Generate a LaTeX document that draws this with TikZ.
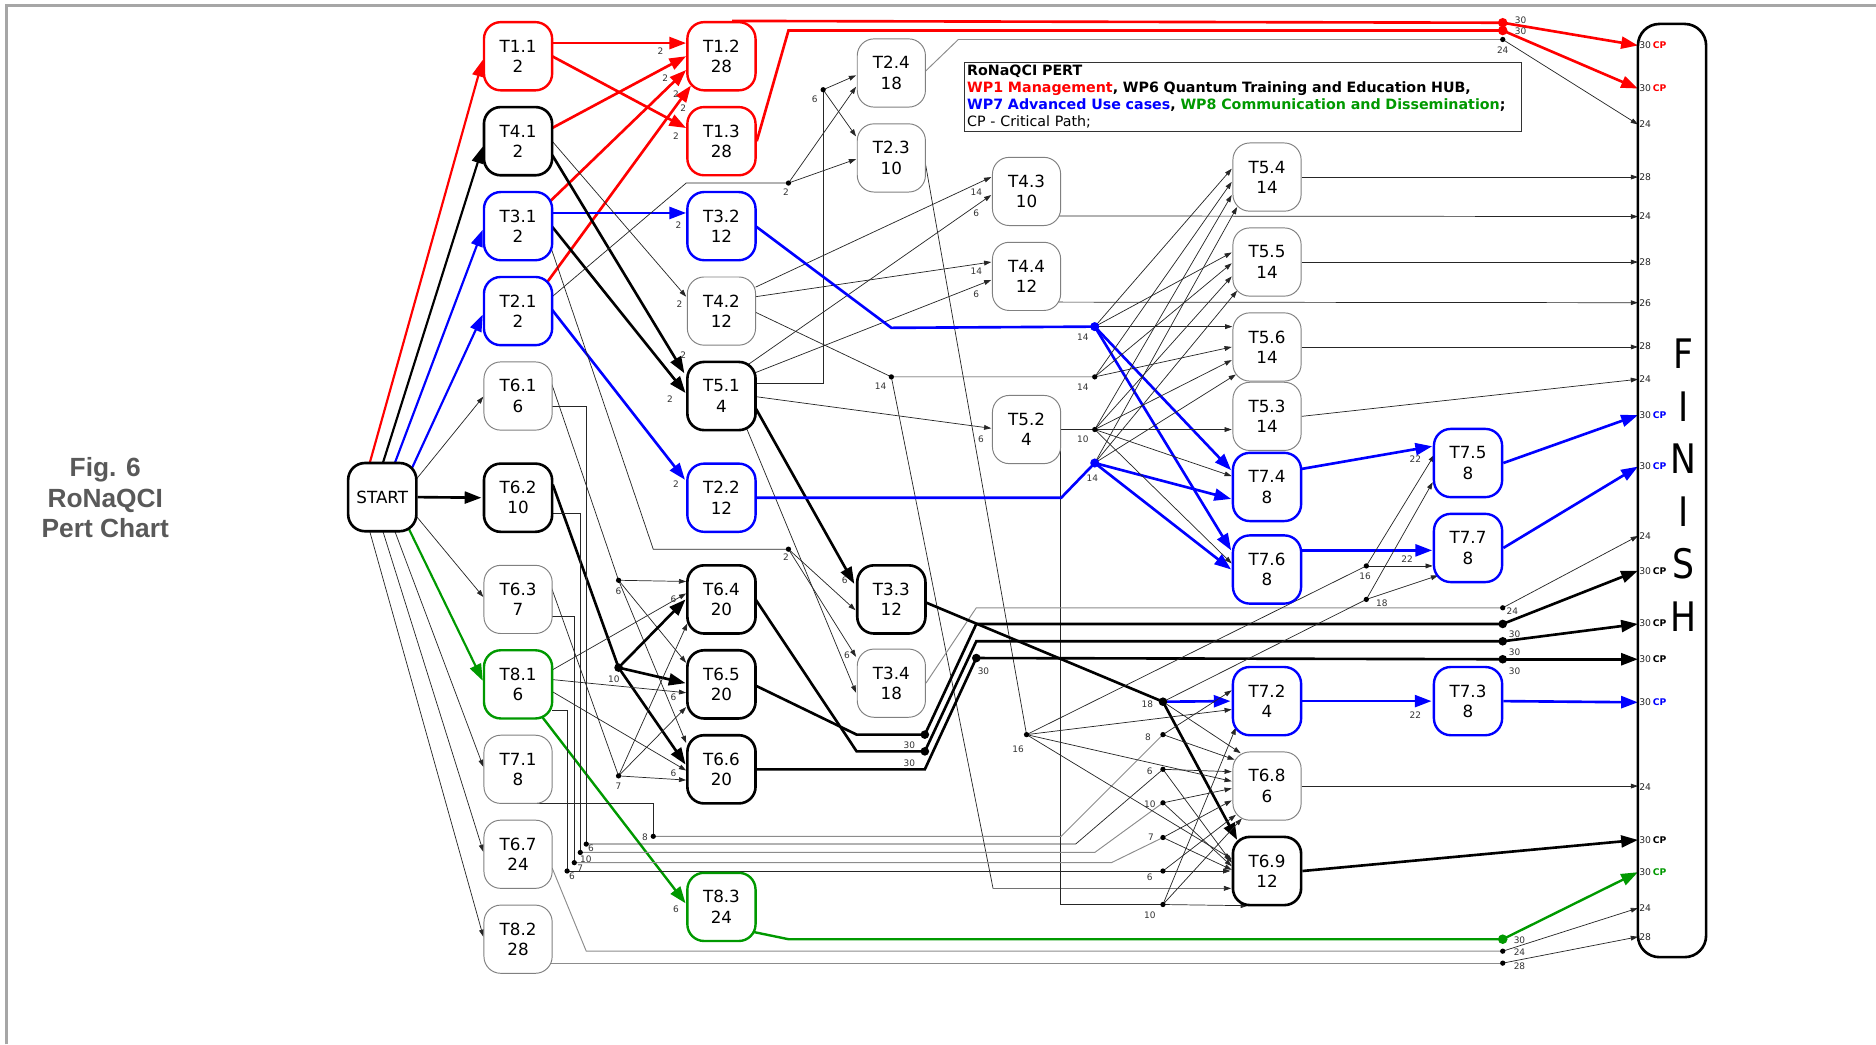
\documentclass[tikz,border=0pt]{standalone}
\usepackage{fontspec}
\setmainfont{DejaVu Sans}
\newfontfamily\captionfont{Liberation Sans}
\newfontfamily\finfont{DejaVu Sans}[FakeStretch=0.85]
\usetikzlibrary{arrows.meta,calc}
\pgfdeclarelayer{edges}
\pgfsetlayers{edges,main}
\definecolor{wpred}{RGB}{255,0,0}
\definecolor{wpblue}{RGB}{0,0,255}
\definecolor{wpgreen}{RGB}{0,153,0}
\definecolor{boxgray}{RGB}{128,128,128}
\definecolor{titlegray}{RGB}{89,89,89}
\definecolor{framegray}{RGB}{166,166,166}
\tikzset{
  task/.style={rectangle, rounded corners=14pt, minimum width=57pt, minimum height=57pt,
    inner sep=0pt, align=center, font=\fontsize{14}{17}\selectfont,
    draw=boxgray, line width=0.8pt, fill=white},
  crittask/.style={task, draw=black, line width=2.2pt},
  redtask/.style={task, draw=wpred, line width=2pt},
  bluetask/.style={task, draw=wpblue, line width=2pt},
  greentask/.style={task, draw=wpgreen, line width=2pt},
  fine/.style={line width=0.6pt, draw=black!85},
  finearr/.style={fine, -{Triangle[length=6pt,width=4pt]}},
  pale/.style={line width=0.8pt, draw=black!45},
  heavy/.style={line width=2.2pt, draw=black},
  heavyarr/.style={heavy, -{Triangle[length=14pt,width=10pt]}},
  redarr/.style={line width=2.2pt, draw=wpred, -{Triangle[length=14pt,width=10pt]}},
  bluearr/.style={line width=2.2pt, draw=wpblue, -{Triangle[length=14pt,width=10pt]}},
  greenarr/.style={line width=2pt, draw=wpgreen, -{Triangle[length=14pt,width=10pt]}},
  lab/.style={font=\fontsize{7.5}{8}\selectfont, text=black!80, inner sep=0pt},
  finlab/.style={font=\fontsize{7.7}{8}\selectfont, text=black!85, inner sep=0pt, anchor=west},
}
\begin{document}
\begin{tikzpicture}[x=1pt,y=-1pt]
\useasboundingbox (0,0) rectangle (1568,873);
% page frame
\draw[framegray, line width=2.2pt] (5.5,873) -- (5.5,4.5) -- (1568,4.5);

% caption
\node[font=\captionfont\bfseries\fontsize{22}{25.3}\selectfont, text=titlegray, align=center] (caption) at (88,416) {Fig. 6\\RoNaQCI\\Pert Chart};

% legend
\node[draw=black!80, line width=0.8pt, fill=white, anchor=north west, align=left, inner sep=2pt,
  text width=461pt, font=\fontsize{11.9}{14.3}\selectfont] (legend) at (806,52)
  {\textbf{RoNaQCI PERT}\\
   \textbf{\textcolor{wpred}{WP1 Management}, WP6 Quantum Training and Education HUB,}\\
   \textbf{\textcolor{wpblue}{WP7 Advanced Use cases}, \textcolor{wpgreen}{WP8 Communication and Dissemination};}\\
   CP - Critical Path;};

% task boxes
\node[crittask] (START) at (319.5,415.5) {START};
\node[redtask] (T11) at (433,47) {T1.1\\2};
\node[crittask] (T41) at (433,118) {T4.1\\2};
\node[bluetask] (T31) at (433,189) {T3.1\\2};
\node[bluetask] (T21) at (433,260) {T2.1\\2};
\node[task] (T61) at (433,331) {T6.1\\6};
\node[crittask] (T62) at (433,416) {T6.2\\10};
\node[task] (T63) at (433,501) {T6.3\\7};
\node[greentask] (T81) at (433,572) {T8.1\\6};
\node[task] (T71) at (433,643) {T7.1\\8};
\node[task] (T67) at (433,714) {T6.7\\24};
\node[task] (T82) at (433,785) {T8.2\\28};
\node[redtask] (T12) at (603,47) {T1.2\\28};
\node[redtask] (T13) at (603,118) {T1.3\\28};
\node[bluetask] (T32) at (603,189) {T3.2\\12};
\node[task] (T42) at (603,260) {T4.2\\12};
\node[crittask] (T51) at (603,331) {T5.1\\4};
\node[bluetask] (T22) at (603,416) {T2.2\\12};
\node[crittask] (T64) at (603,501) {T6.4\\20};
\node[crittask] (T65) at (603,572) {T6.5\\20};
\node[crittask] (T66) at (603,643) {T6.6\\20};
\node[greentask] (T83) at (603,758) {T8.3\\24};
\node[task] (T24) at (745,61) {T2.4\\18};
\node[task] (T23) at (745,132) {T2.3\\10};
\node[crittask] (T33) at (745,501) {T3.3\\12};
\node[task] (T34) at (745,571) {T3.4\\18};
\node[task] (T43) at (858,160) {T4.3\\10};
\node[task] (T44) at (858,231) {T4.4\\12};
\node[task] (T52) at (858,359) {T5.2\\4};
\node[task] (T54) at (1059,148) {T5.4\\14};
\node[task] (T55) at (1059,219) {T5.5\\14};
\node[task] (T56) at (1059,290) {T5.6\\14};
\node[task] (T53) at (1059,348) {T5.3\\14};
\node[bluetask] (T74) at (1059,407) {T7.4\\8};
\node[bluetask] (T76) at (1059,476) {T7.6\\8};
\node[bluetask] (T72) at (1059,586) {T7.2\\4};
\node[task] (T68) at (1059,657) {T6.8\\6};
\node[crittask] (T69) at (1059,728) {T6.9\\12};
\node[bluetask] (T75) at (1227,387) {T7.5\\8};
\node[bluetask] (T77) at (1227,458) {T7.7\\8};
\node[bluetask] (T73) at (1227,586) {T7.3\\8};

% finish bar
\node[draw, line width=2.2pt, rounded corners=18pt, minimum width=57pt, minimum height=780pt, inner sep=0pt, fill=white] (FIN) at (1397.5,410) {};
\node[font=\finfont\fontsize{34}{44}\selectfont, align=center, inner sep=0pt] (finword) at (1407,405.5) {F\\I\\N\\I\\S\\H};

% junction points
\coordinate (J1) at (659,459);
\coordinate (J2) at (659,153);
\coordinate (J3) at (688,75);
\coordinate (J4) at (517,485);
\coordinate (J5) at (745,315);
\coordinate (J6) at (517,558);
\coordinate (J7) at (517,648.5);
\coordinate (B1) at (915,273);
\coordinate (J14) at (915,315);
\coordinate (J10) at (915,359);
\coordinate (B2) at (915,387);
\coordinate (D61) at (490,705.5);
\coordinate (D62) at (485,712.5);
\coordinate (D63) at (480,721);
\coordinate (D81) at (474,728);
\coordinate (D71) at (546,699);
\coordinate (K18) at (972,586.5);
\coordinate (K8) at (972,614);
\coordinate (K6a) at (972,643);
\coordinate (K10a) at (972,671);
\coordinate (K7) at (972,700);
\coordinate (K6b) at (972,728);
\coordinate (K10b) at (972,756);
\coordinate (K16) at (858,614);
\coordinate (S16) at (1142,473);
\coordinate (S18) at (1142,501);
\coordinate (P1) at (773,614);
\coordinate (P2) at (773,628);
\coordinate (P3) at (816,550);
\coordinate (Q1) at (1256,521.5);
\coordinate (Q2) at (1256,536);
\coordinate (Q3) at (1256,551);
\coordinate (R1) at (1256,19);
\coordinate (R2) at (1256,25.5);
\coordinate (G33) at (1256,33);
\coordinate (G508) at (1256,508);
\coordinate (GG) at (1256,785);
\coordinate (G795) at (1256,795);
\coordinate (G805) at (1256,805);
% inputs on the finish bar
\coordinate (F38) at (1369,38);
\coordinate (F74) at (1369,74);
\coordinate (F104) at (1369,104);
\coordinate (F148) at (1369,148);
\coordinate (F181) at (1369,181);
\coordinate (F219) at (1369,219);
\coordinate (F253) at (1369,253);
\coordinate (F290) at (1369,290);
\coordinate (F317) at (1369,317);
\coordinate (F347) at (1369,347);
\coordinate (F390) at (1369,390);
\coordinate (F448) at (1369,448);
\coordinate (F477) at (1369,477);
\coordinate (F521) at (1369,521.5);
\coordinate (F551) at (1369,551);
\coordinate (F587) at (1369,587);
\coordinate (F657) at (1369,657);
\coordinate (F702) at (1369,702);
\coordinate (F729) at (1369,729);
\coordinate (F759) at (1369,759);
\coordinate (F783) at (1369,783);

\begin{pgfonlayer}{edges}
% from START
\draw[redarr, line width=1.8pt] ($(START)+(-10.5,-28.5)$) -- ($(T11)+(-29.5,3)$);
\draw[heavyarr, line width=1.8pt] ($(START)+(0.5,-28.5)$) -- ($(T41)+(-29.5,4.5)$);
\draw[bluearr, line width=1.8pt] ($(START)+(10.5,-28.5)$) -- ($(T31)+(-29.5,3)$);
\draw[bluearr, line width=1.8pt] ($(START)+(21.5,-17)$) -- ($(T21)+(-29.5,3)$);
\draw[finearr] ($(START)+(28.5,-15)$) -- ($(T61)+(-29,0.5)$);
\draw[heavyarr] (START.east) -- ($(T62.west)+(-1,0)$);
\draw[finearr] ($(START)+(28.5,16)$) -- ($(T63)+(-29,-2)$);
\draw[greenarr, line width=1.8pt] ($(START)+(21.5,25)$) -- ($(T81)+(-29.5,-3)$);
\draw[finearr] ($(START)+(10.5,28.5)$) -- ($(T71)+(-29,-2)$);
\draw[finearr] ($(START)+(0.5,28.5)$) -- ($(T67)+(-29,-2)$);
\draw[finearr] ($(START)+(-10.5,28.5)$) -- ($(T82)+(-29,-2)$);

% WP1 links
\draw[redarr] ($(T11)+(28.5,-11)$) -- ($(T12)+(-29.5,-11)$);
\draw[redarr] ($(T11)+(28.5,0)$) -- ($(T13)+(-29.5,-11)$);
\draw[redarr] ($(T41)+(28.5,-11)$) -- ($(T12)+(-29.5,0)$);
\draw[redarr] ($(T31)+(26,-20)$) -- ($(T12)+(-29.5,11.5)$);
\draw[redarr] ($(T21)+(23.5,-23)$) -- ($(T12)+(-25.5,24.5)$);
\draw[line width=2.2pt, wpred] ($(T12.north)+(9,0)$) -- (R1);
\draw[redarr] (R1) -- (F38);
\draw[line width=2.2pt, wpred] (T13.east) -- (659,25.5) -- (R2);
\draw[redarr] (R2) -- (F74);

% column one to column two
\draw[bluearr] ($(T31)+(28.5,-11)$) -- ($(T32)+(-29.5,-11)$);
\draw[finearr] ($(T41)+(28.5,0)$) -- ($(T42)+(-29.5,-12)$);
\draw[heavyarr] ($(T41)+(28.5,11.5)$) -- ($(T51)+(-31,-19)$);
\draw[heavyarr] ($(T31)+(28.5,0.5)$) -- ($(T51)+(-30,-2.5)$);
\draw[bluearr] ($(T21)+(28.5,-1)$) -- ($(T22)+(-30.5,-15)$);
\draw[fine] ($(T21)+(28.5,-12)$) -- (T12.west |- J2) -- (J2);
\draw[finearr] (J2) -- ($(T24)+(-29.5,11.5)$);
\draw[finearr] (J2) -- ($(T23)+(-29.5,1)$);
\draw[finearr] (J3) -- ($(T24)+(-29.5,2)$);
\draw[finearr] (J3) -- ($(T23)+(-29.5,-18)$);
\draw[fine] ($(T51)+(28.5,-11)$) -| (J3);
\draw[fine] ($(T31)+(27,16.5)$) -- (546,459) -- (J1);
\draw[finearr] (J1) -- ($(T33)+(-30,9)$);
\draw[finearr] (J1) -- ($(T34)+(-29.5,-22)$);
\draw[finearr] ($(T51)+(21,27)$) -- ($(T34)+(-29.5,8)$);
\draw[heavyarr] ($(T51)+(28.5,10)$) -- ($(T33)+(-31,-13)$);
\draw[finearr] ($(T51)+(28.5,0.5)$) -- ($(T52)+(-29.5,-1)$);
\draw[finearr] ($(T51)+(19,-24)$) -- ($(T43)+(-29.5,3)$);
\draw[finearr] ($(T51)+(27,-19)$) -- ($(T44)+(-29.5,3)$);
\draw[finearr] ($(T42)+(28.5,-20)$) -- ($(T43)+(-29.5,-12)$);
\draw[finearr] ($(T42)+(28.5,-12)$) -- ($(T44)+(-29.5,-12)$);
\draw[fine] ($(T42)+(28.5,1)$) -- (J5) -- (J14);
\draw[finearr] (J5) -- (830,742.5) -- ($(T69)+(-30,14.5)$);
\draw[fine] ($(T23)+(28,2)$) -- (K16);
\draw[pale] ($(T24)+(28,-1)$) -- (801,33) -- (G33);
\draw[finearr] (G33) -- (F104);

% T5.2 outputs
\draw[fine] (T52.east) -- (J10);
\draw[fine] ($(T52)+(28.5,14)$) |- (K10b);

% WP7 chain
\draw[line width=2.2pt, wpblue] ($(T32)+(28.5,0)$) -- (745,274) -- (B1);
\draw[line width=2.2pt, wpblue] (T22.east) -- (887,416) -- (B2);
\draw[bluearr] (B1) -- ($(T74)+(-30,-14)$);
\draw[bluearr] (B1) -- ($(T76)+(-30,-16)$);
\draw[bluearr] (B2) -- ($(T74)+(-30,10)$);
\draw[bluearr] (B2) -- ($(T76)+(-30,0)$);
\draw[bluearr] ($(T74)+(28.5,-15)$) -- ($(T75)+(-30,-14)$);
\draw[bluearr] ($(T76)+(28.5,-16)$) -- ($(T77)+(-30,2)$);
\draw[bluearr] (T72.east) -- ($(T73.west)+(-1,0)$);
\draw[bluearr] (T75.east) -- (F347);
\draw[bluearr] (T77.east) -- (F390);
\draw[bluearr] (T73.east) -- (F587);

% fan into the T5 tasks
\foreach \src/\dy/\dx in {B1/-7/-29.5, J14/4/-29.5, J10/15/-29.5, B2/25/-25}
  \draw[finearr] (\src) -- ($(T54)+(\dx,\dy)$);
\foreach \src/\dy/\dx in {B1/-8/-29.5, J14/1/-29.5, J10/12/-29.5, B2/24/-25}
  \draw[finearr] (\src) -- ($(T55)+(\dx,\dy)$);
\foreach \src/\dy/\dx in {B1/-17/-29, J14/0/-29.5, J10/11/-29.5, B2/23/-26}
  \draw[finearr] (\src) -- ($(T56)+(\dx,\dy)$);
\draw[finearr] (J10) -- ($(T53)+(-29.5,11)$);
\draw[finearr] (J10) -- ($(T74)+(-29.5,-9)$);
\draw[finearr] (J10) -- ($(T76)+(-29.5,-5)$);

% outputs of the T4 and T5 tasks
\draw[finearr] (T54.east) -- (F148);
\draw[finearr] ($(T43)+(27,20.5)$) -- (F181);
\draw[finearr] (T55.east) -- (F219);
\draw[finearr] ($(T44)+(27,21.5)$) -- (F253);
\draw[finearr] (T56.east) -- (F290);
\draw[finearr] (T53.east) -- (F317);

% WP6 training block
\draw[fine] ($(T61)+(27.5,-12)$) -- (J4);
\draw[finearr] (J4) -- ($(T64)+(-29.5,-15)$);
\draw[finearr] (J4) -- ($(T65)+(-29.5,-18)$);
\draw[finearr] (J4) -- ($(T66)+(-29.5,-22)$);
\draw[heavy] ($(T62)+(29,-11)$) -- (J6);
\draw[heavyarr] (J6) -- ($(T64)+(-30,0)$);
\draw[heavyarr] (J6) -- ($(T65)+(-30,-1)$);
\draw[heavyarr] (J6) -- ($(T66)+(-30,-4)$);
\draw[fine] ($(T63)+(27.5,-11)$) -- (J7);
\draw[finearr] (J7) -- ($(T64)+(-28.5,20)$);
\draw[finearr] (J7) -- ($(T65)+(-29.5,19)$);
\draw[finearr] (J7) -- ($(T66)+(-29.5,9)$);
\draw[finearr] ($(T81)+(28.5,-12)$) -- ($(T64)+(-29.5,-5)$);
\draw[finearr] ($(T81)+(28.5,-4)$) -- ($(T65)+(-29.5,7)$);
\draw[finearr] ($(T81)+(28.5,6)$) -- ($(T66)+(-29.5,1)$);
\draw[greenarr] ($(T81)+(20,27)$) -- ($(T83)+(-30,-3)$);

\draw[heavy] ($(T64)+(28.5,0)$) -- (716,628) -- (P2);
\draw[heavy] ($(T65)+(28.5,1)$) -- (716,614) -- (P1);
\draw[heavy] (P1) -- (816,521.5) -- (Q1);
\draw[heavy] (P2) -- (816,536) -- (Q2);
\draw[heavy] (T66.east) -- (773,643) -- (P3) -- (Q3);
\draw[heavyarr] (Q1) -- (F477);
\draw[heavyarr] (Q2) -- (F521);
\draw[heavyarr] (Q3) -- (F551);
\draw[pale] (T34.east) -- (816,508) -- (G508);
\draw[finearr] (G508) -- (F448);

% feeders running along the bottom
\draw[fine] ($(T61)+(28.5,9)$) -| (D61);
\draw[fine] ($(T62)+(28.5,13)$) -| (D62);
\draw[fine] ($(T63)+(28.5,14)$) -| (D63);
\draw[fine] ($(T81)+(28.5,21.5)$) -| (D81);
\draw[fine] ($(T71)+(9,28.5)$) -| (D71);
\draw[pale] (D71) -- (887,699) -- (K8);
\draw[fine] (D61) -- (899,705.5) -- (K6a);
\draw[pale] (D62) -- (915,712.5) -- (K10a);
\draw[pale] (D63) -- (929,721) -- (K7);
\draw[fine] (D81) -- (K6b);
\draw[pale] ($(T67)+(28.5,11.5)$) -- (490,795) -- (G795);
\draw[pale] ($(T82)+(27.5,20)$) -- (G805);
\draw[finearr] (G795) -- (F759);
\draw[finearr] (G805) -- (F783);
\draw[line width=2pt, wpgreen] ($(T83)+(27,21)$) -- (659,785) -- (GG);
\draw[greenarr] (GG) -- (F729);

% T3.3 and the fan into T6.8 / T6.9 / T7.2
\draw[heavy] ($(T33)+(27.5,2)$) -- (K18);
\draw[heavyarr] (K18) -- ($(T69)+(-25,-26)$);
\draw[bluearr] (K18) -- ($(T72.west)+(-1,0)$);
\draw[finearr] (K18) -- ($(T68)+(-22,-27.5)$);
\draw[fine] (K18) -- (S18);
\draw[fine] (K16) -- (S16);
\draw[finearr] (K16) -- ($(T72)+(-29.5,7)$);
\draw[finearr] (K16) -- ($(T68)+(-29.5,-4)$);
\draw[finearr] (K16) -- ($(T69)+(-29.5,-10)$);
\draw[finearr] (K8) -- ($(T72)+(-29.5,-9)$);
\draw[finearr] (K8) -- ($(T68)+(-27,-22)$);
\draw[finearr] (K6a) -- ($(T68)+(-29.5,-12)$);
\draw[finearr] (K6a) -- ($(T69)+(-29.5,-7)$);
\draw[finearr] (K10a) -- ($(T68)+(-29.5,2)$);
\draw[finearr] (K10a) -- ($(T69)+(-29.5,-4)$);
\draw[finearr] (K7) -- ($(T68)+(-29.5,12)$);
\draw[finearr] (K7) -- ($(T69)+(-29.5,-1)$);
\draw[finearr] (K6b) -- ($(T69.west)+(-1,0)$);
\draw[finearr] (K6b) -- ($(T68)+(-26,24)$);
\draw[finearr] (K10b) -- ($(T69)+(-16,29)$);
\draw[finearr] (K10b) -- ($(T72)+(-26,22)$);
\draw[finearr] (K10b) -- ($(T68)+(-21,27)$);
\draw[finearr] (S16) -- ($(T77)+(-29.5,15)$);
\draw[finearr] (S16) -- ($(T75)+(-28,-7)$);
\draw[finearr] (S18) -- ($(T75)+(-29.5,16)$);
\draw[finearr] (S18) -- ($(T77)+(-25,23)$);
\draw[finearr] (T68.east) -- (F657);
\draw[heavyarr] (T69.east) -- (F702);
\end{pgfonlayer}

% junction dots
\foreach \p in {J1,J2,J3,J4,J5,J7,J10,J14,D61,D62,D63,D81,D71,K8,K6a,K10a,K7,K6b,K10b,K16,S16,S18,G33,G508,G795,G805}
  \fill (\p) circle (2.2pt);
\foreach \p in {J6,K18,P1,P2,P3,Q1,Q2,Q3}
  \fill (\p) circle (3.6pt);
\fill[wpred] (R1) circle (4pt);
\fill[wpred] (R2) circle (4pt);
\fill[wpblue] (B1) circle (3.8pt);
\fill[wpblue] (B2) circle (3.8pt);
\fill[wpgreen] (GG) circle (4pt);

% small time labels
\foreach \x/\y/\t [count=\i] in {
  552/43/2, 556/65/2, 565/78.5/2, 571/90.5/2, 565/114/2, 567/188/2, 568/254/2,
  571/297/2, 560/334/2, 565/405/2, 657/161/2, 681/83/6, 657/466/2, 736/323/14,
  816/161/14, 816/178/6, 816/227/14, 816/246/6, 820/367/6, 706/485/6, 708/548/6,
  517/494/6, 513/568/10, 517/657/7, 563/501/6, 563/583/6, 563/646/6, 565/760/6,
  539/700/8, 494/709/6, 489.6/718/10, 485/726/7, 478/732/6,
  760/623/30, 760/638/30, 822/561/30,
  905/282/14, 905/324/14, 905/367/10, 913/400/14,
  959/589/18, 959.5/616/8, 961/645/6, 961/672/10, 962/700/7, 961/733/6, 961/765/10,
  851/626/16, 1141/482/16, 1155/504/18, 1183/384/22, 1176/467/22, 1183/598/22,
  1271/16.5/30, 1271/26.5/30, 1256/42/24, 1264/511/24, 1266/530/30, 1266/545/30,
  1266/561/30, 1270/786/30, 1270/796/24, 1270/808/28}
  \node[lab] (tl\i) at (\x,\y) {\t};

% labels on the finish bar
\foreach \y/\t [count=\i] in {104/24,148/28,181/24,219/28,253/26,289/28,317/24,448/24,658/24,759/24,783/28}
  \node[finlab] (fn\i) at (1370,\y) {\t};
\foreach \y/\c [count=\i] in {38/wpred,74/wpred,347/wpblue,390/wpblue,477/black,521/black,551/black,587/wpblue,702/black,729/wpgreen}
  \node[finlab] (fc\i) at (1370,\y) {30\hspace{1.4pt}\textcolor{\c}{\textbf{CP}}};
\end{tikzpicture}
\end{document}
